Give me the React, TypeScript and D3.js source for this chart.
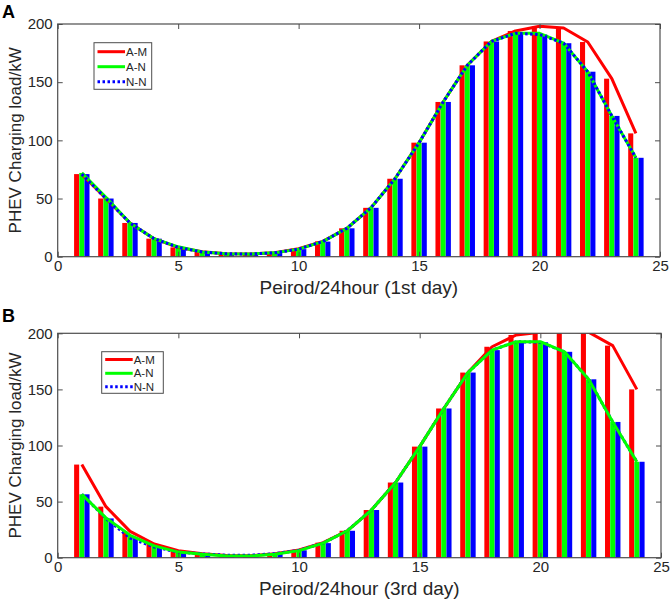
import React, { useEffect, useRef } from "react";
import * as d3 from "d3";

// hours of the day (x categories)
const hours = [1, 2, 3, 4, 5, 6, 7, 8, 9, 10, 11, 12, 13, 14, 15, 16, 17, 18, 19, 20, 21, 22, 23, 24];
const seriesNames = ["A-M", "A-N", "N-N"];
const xTicks = [0, 5, 10, 15, 20, 25];
const yTicks = [0, 50, 100, 150, 200];

// 1st day
const dayOneAM = [71, 50, 29, 15.5, 8, 4.3, 2.5, 2.3, 3.5, 6.8, 13.2, 24.4, 42, 67, 98, 133, 164.5, 185, 194, 198, 196.5, 184.5, 153, 106];
const dayOneAN = [72, 51, 29, 15.5, 8.5, 4, 2.5, 2.3, 3.3, 6.5, 13, 24.4, 42, 67, 98, 133, 164.5, 185, 192, 192, 183.5, 159, 121, 85];
const dayOneNN = [71, 50, 29, 15.5, 8, 4, 2.5, 2.3, 3.3, 6.5, 13, 24.4, 42, 67, 98, 133, 164.5, 185, 192, 191, 183.5, 159, 121, 85];

// 3rd day
const dayThreeAM = [83, 45.5, 23.5, 12.2, 6.3, 3.5, 2, 1.8, 3.5, 6.9, 13.4, 24, 42.5, 67, 99, 133, 165, 188, 198.5, 201, 202, 201, 189, 150];
const dayThreeAN = [56.5, 35.5, 20, 10.5, 5, 3, 1.5, 1.5, 3, 6.3, 13, 24, 42.5, 67, 99, 133, 165, 185, 192.5, 192.5, 183.5, 159, 121, 85.5];
const dayThreeNN = [56.5, 35, 17.5, 9.5, 5, 3.4, 2.2, 2.2, 3.6, 6.6, 13, 24, 42.5, 67, 99, 133, 165, 185, 192.5, 192, 183.5, 159, 121, 85.5];

const colors = ["#ff0000", "#00ff00", "#0000ff"];
const offsets = [-0.215, 0, 0.215];
const barW = 0.21;
const font = "'Liberation Sans', Arial, Helvetica, sans-serif";
const textColor = "#262626";
const axisColor = "#4d4d4d";

interface PanelCfg {
  id: string;
  letter: string;
  letterY: number;
  xLabel: string;
  data: number[][];
  lineOrder: number[];
  box: { left: number; right: number; top: number; bottom: number };
  legend: { x: number; y: number; w: number; h: number; rowY: number[] };
}

const drawPanel = (svg: d3.Selection<SVGSVGElement, unknown, null, undefined>, p: PanelCfg) => {
  const { left, right, top, bottom } = p.box;
  const x = d3.scaleLinear().domain([0, 25]).range([left, right]);
  const y = d3.scaleLinear().domain([0, 200]).range([bottom, top]);

  const g = svg.append("g");

  g.append("clipPath")
    .attr("id", "clip-" + p.id)
    .append("rect")
    .attr("x", left)
    .attr("y", top)
    .attr("width", right - left)
    .attr("height", bottom - top);

  const plot = g.append("g").attr("clip-path", `url(#clip-${p.id})`);

  // grouped bars
  p.data.forEach((vals, si) => {
    plot
      .append("g")
      .selectAll("rect")
      .data(vals)
      .join("rect")
      .attr("x", (d, i) => x(hours[i] + offsets[si] - barW / 2))
      .attr("width", x(barW) - x(0))
      .attr("y", (d) => y(d))
      .attr("height", (d) => y(0) - y(d))
      .attr("fill", colors[si]);
  });

  // lines through the bar tops
  const line = d3
    .line<number>()
    .x((d, i) => x(hours[i]))
    .y((d) => y(d));

  p.lineOrder.forEach((si) => {
    plot
      .append("path")
      .datum(p.data[si])
      .attr("fill", "none")
      .attr("stroke", colors[si])
      .attr("stroke-width", 3)
      .attr("stroke-linejoin", "round")
      .attr("stroke-dasharray", si === 2 ? "2.5,2.5" : null)
      .attr("d", line);
  });

  // axes, ticks inward on all four sides
  const styleAxis = (a: any) => {
    a.select(".domain").remove();
    a.selectAll(".tick line").attr("stroke", axisColor);
    a.selectAll(".tick text").attr("fill", textColor).attr("font-size", 15).attr("font-family", font);
  };

  g.append("g")
    .attr("transform", `translate(0,${bottom})`)
    .call(d3.axisBottom(x).tickValues(xTicks).tickSize(-5).tickPadding(4))
    .call(styleAxis);
  g.append("g")
    .attr("transform", `translate(0,${top})`)
    .call(d3.axisTop(x).tickValues(xTicks).tickSize(-5).tickFormat(() => ""))
    .call(styleAxis);
  g.append("g")
    .attr("transform", `translate(${left},0)`)
    .call(d3.axisLeft(y).tickValues(yTicks).tickSize(-5).tickPadding(5))
    .call(styleAxis);
  g.append("g")
    .attr("transform", `translate(${right},0)`)
    .call(d3.axisRight(y).tickValues(yTicks).tickSize(-5).tickFormat(() => ""))
    .call(styleAxis);

  g.append("rect")
    .attr("x", left)
    .attr("y", top)
    .attr("width", right - left)
    .attr("height", bottom - top)
    .attr("fill", "none")
    .attr("stroke", axisColor)
    .attr("stroke-width", 1.2);

  // labels
  g.append("text")
    .attr("x", (left + right) / 2)
    .attr("y", bottom + 37)
    .attr("text-anchor", "middle")
    .attr("font-size", 19)
    .attr("font-family", font)
    .attr("fill", textColor)
    .text(p.xLabel);

  g.append("text")
    .attr("transform", `translate(21,${(top + bottom) / 2}) rotate(-90)`)
    .attr("text-anchor", "middle")
    .attr("font-size", 17)
    .attr("font-family", font)
    .attr("fill", textColor)
    .text("PHEV Charging load/kW");

  g.append("text")
    .attr("x", 2)
    .attr("y", p.letterY)
    .attr("font-size", 18)
    .attr("font-weight", "bold")
    .attr("font-family", font)
    .attr("fill", "#000")
    .text(p.letter);

  // legend
  const lg = p.legend;
  g.append("rect")
    .attr("x", lg.x)
    .attr("y", lg.y)
    .attr("width", lg.w)
    .attr("height", lg.h)
    .attr("fill", "#fff")
    .attr("stroke", axisColor)
    .attr("stroke-width", 1);
  seriesNames.forEach((name, si) => {
    const ry = lg.rowY[si];
    g.append("line")
      .attr("x1", lg.x + 3.5)
      .attr("x2", lg.x + 31)
      .attr("y1", ry)
      .attr("y2", ry)
      .attr("stroke", colors[si])
      .attr("stroke-width", 3)
      .attr("stroke-dasharray", si === 2 ? "2.5,2.5" : null);
    g.append("text")
      .attr("x", lg.x + 32)
      .attr("y", ry)
      .attr("dy", "0.36em")
      .attr("font-size", 11.5)
      .attr("font-family", font)
      .attr("fill", textColor)
      .text(name);
  });
};

const App: React.FC = () => {
  const ref = useRef<SVGSVGElement | null>(null);

  useEffect(() => {
    const svg = d3.select(ref.current as SVGSVGElement);
    svg.selectAll("*").remove();

    drawPanel(svg, {
      id: "a",
      letter: "A",
      letterY: 18,
      xLabel: "Peirod/24hour (1st day)",
      data: [dayOneAM, dayOneAN, dayOneNN],
      lineOrder: [0, 1, 2],
      box: { left: 57.7, right: 660, top: 24, bottom: 256.7 },
      legend: { x: 94, y: 42.7, w: 57.7, h: 46.6, rowY: [51.7, 66.7, 81.7] },
    });

    drawPanel(svg, {
      id: "b",
      letter: "B",
      letterY: 322,
      xLabel: "Peirod/24hour (3rd day)",
      data: [dayThreeAM, dayThreeAN, dayThreeNN],
      lineOrder: [0, 2, 1],
      box: { left: 57.7, right: 661, top: 333.3, bottom: 557.7 },
      legend: { x: 101.7, y: 351.7, w: 61.6, h: 41.6, rowY: [359.5, 373.3, 386.7] },
    });
  }, []);

  return (
    <svg
      ref={ref}
      width={671}
      height={599}
      style={{ position: "absolute", left: 0, top: 0, background: "#fff" }}
    ></svg>
  );
};

export default App;
